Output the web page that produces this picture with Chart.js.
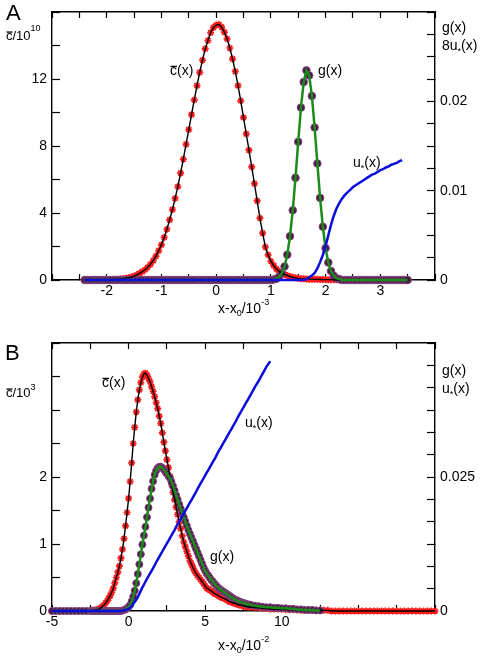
<!DOCTYPE html>
<html>
<head>
<meta charset="utf-8">
<script src="https://cdn.jsdelivr.net/npm/chart.js@4.4.1/dist/chart.umd.min.js"></script>
<style>
  html, body { margin: 0; padding: 0; background: #fff; }
  #wrap { position: relative; width: 480px; height: 656px; }
  canvas { position: absolute; left: 0; }
  #chartA { top: 0; }
  #chartB { top: 328px; }
</style>
</head>
<body>
<div id="wrap">
  <canvas id="chartA" width="480" height="328"></canvas>
  <canvas id="chartB" width="480" height="328"></canvas>
</div>
<script>
// ==================== DATA, PANEL A (x - x0 in 1e-3) ====================
const xA = [
  -2.4,-2.35,-2.3,-2.25,-2.2,-2.15,-2.1,-2.05,-2,-1.95,
  -1.9,-1.85,-1.8,-1.75,-1.7,-1.65,-1.6,-1.55,-1.5,-1.45,
  -1.4,-1.35,-1.3,-1.25,-1.2,-1.15,-1.1,-1.05,-1,-0.95,
  -0.9,-0.85,-0.8,-0.75,-0.7,-0.65,-0.6,-0.55,-0.5,-0.45,
  -0.4,-0.35,-0.3,-0.25,-0.2,-0.15,-0.1,-0.05,0,0.05,
  0.1,0.15,0.2,0.25,0.3,0.35,0.4,0.45,0.5,0.55,
  0.6,0.65,0.7,0.75,0.8,0.85,0.9,0.95,1,1.05,
  1.1,1.15,1.2,1.25,1.3,1.35,1.4,1.45,1.5,1.55,
  1.6,1.65,1.7,1.75,1.8,1.85,1.9,1.95,2,2.05,
  2.1,2.15,2.2,2.25,2.3,2.35,2.4,2.45,2.5,2.55,
  2.6,2.65,2.7,2.75,2.8,2.85,2.9,2.95,3,3.05,
  3.1,3.15,3.2,3.25,3.3,3.35,3.4,3.45,3.5
];
// c(x) / 1e10, left axis
const cA = [
  0,0,0,0,0.01,0.01,0.01,0.02,0.02,0.03,
  0.03,0.04,0.05,0.06,0.08,0.11,0.14,0.18,0.23,0.31,
  0.40,0.50,0.61,0.76,0.93,1.16,1.43,1.75,2.1,2.54,
  3.03,3.59,4.2,4.87,5.58,6.38,7.21,8.1,8.98,9.87,
  10.75,11.6,12.4,13.12,13.8,14.3,14.77,15.07,15.22,15.25,
  15.1,14.8,14.4,13.85,13.2,12.45,11.6,10.7,9.7,8.72,
  7.75,6.75,5.75,4.72,3.7,2.8,1.97,1.5,1.12,0.87,
  0.66,0.52,0.4,0.33,0.27,0.21,0.16,0.13,0.1,0.08,
  0.07,0.06,0.05,0.05,0.04,0.04,0.03,0.03,0.02,0.02,
  0.02,0.01,0.01,0,0,0,0,0,0,0,
  0,0,0,0,0,0,0,0,0,0,
  0,0,0,0,0,0,0,0,0
];
// g(x), right axis
const gA = [
  0,0,0,0,0,0,0,0,0,0,
  0,0,0,0,0,0,0,0,0,0,
  0,0,0,0,0,0,0,0,0,0,
  0,0,0,0,0,0,0,0,0,0,
  0,0,0,0,0,0,0,0,0,0,
  0,0,0,0,0,0,0,0,0,0,
  0,0,0,0,0,0,0,0,0,0.00005,
  0.00014,0.00034,0.00074,0.00151,0.00283,0.0049,0.0078,0.01144,0.01547,0.0193,
  0.02216,0.02346,0.0229,0.0206,0.01707,0.01304,0.00919,0.00596,0.00356,0.00196,
  0.001,0.00047,0.0002,0.0001,0,0,0,0,0,0,
  0,0,0,0,0,0,0,0,0,0,
  0,0,0,0,0,0,0,0,0
];
// 8u*(x), right axis
const uA = [
  0,0,0,0,0,0,0,0,0,0,
  0,0,0,0,0,0,0,0,0,0,
  0,0,0,0,0,0,0,0,0,0,
  0,0,0,0,0,0,0,0,0,0,
  0,0,0,0,0,0,0,0,0,0,
  0,0,0,0,0,0,0,0,0,0,
  0,0,0,0,0,0,0,0,0,0,
  0,0,0,0,0,0,0,0,0,0,
  0,0.0001,0.0003,0.0005,0.0008,0.0013,0.002,0.0028,0.0038,0.005,
  0.0062,0.0072,0.008,0.0086,0.0091,0.0095,0.0098,0.0101,0.0104,0.0106,
  0.0108,0.011,0.0112,0.0114,0.0116,0.0118,0.0119,0.0121,0.0123,0.0124,
  0.0126,0.0127,0.0129,0.013,0.0131,0.0133,0.0134,null,null
];
const xLabelsA = [-2, -1, 0, 1, 2, 3];
const yLabelsA = [0, 4, 8, 12];
const y1LabelsA = [0, 0.01, 0.02];

// ==================== DATA, PANEL B (x - x0 in 1e-2) ====================
const xB = [
  -5,-4.75,-4.5,-4.25,-4,-3.75,-3.5,-3.25,-3,-2.75,
  -2.5,-2.4,-2.3,-2.2,-2.1,-2,-1.9,-1.8,-1.7,-1.6,
  -1.5,-1.4,-1.3,-1.2,-1.1,-1,-0.9,-0.8,-0.7,-0.6,
  -0.5,-0.4,-0.3,-0.2,-0.1,0,0.1,0.2,0.3,0.4,
  0.5,0.6,0.7,0.8,0.9,1,1.1,1.2,1.3,1.4,
  1.5,1.6,1.7,1.8,1.9,2,2.1,2.2,2.3,2.4,
  2.5,2.6,2.7,2.8,2.9,3,3.1,3.2,3.3,3.4,
  3.5,3.6,3.7,3.8,3.9,4,4.1,4.2,4.3,4.4,
  4.5,4.6,4.7,4.8,4.9,5,5.1,5.2,5.3,5.4,
  5.5,5.6,5.7,5.8,5.9,6,6.1,6.2,6.3,6.4,
  6.5,6.6,6.7,6.8,6.9,7,7.1,7.2,7.3,7.4,
  7.5,7.6,7.7,7.8,7.9,8,8.25,8.5,8.75,9,
  9.25,9.5,9.75,10,10.25,10.5,10.75,11,11.25,11.5,
  11.75,12,12.25,12.5,12.75,13,13.25,13.5,13.75,14,
  14.25,14.5,14.75,15,15.25,15.5,15.75,16,16.25,16.5,
  16.75,17,17.25,17.5,17.75,18,18.25,18.5,18.75,19,
  19.25,19.5,19.75,20
];
// c(x) / 1e3, left axis
const cB = [
  0,0,0,0,0,0,0,0,0,0,
  0,0.01,0.01,0.01,0.02,0.02,0.03,0.05,0.07,0.09,
  0.12,0.15,0.19,0.23,0.28,0.34,0.42,0.5,0.58,0.67,
  0.79,0.92,1.08,1.27,1.47,1.68,1.93,2.21,2.5,2.74,
  2.97,3.15,3.3,3.41,3.49,3.54,3.55,3.52,3.47,3.42,
  3.35,3.28,3.2,3.11,3.02,2.91,2.8,2.66,2.52,2.39,
  2.26,2.14,2.01,1.89,1.77,1.66,1.55,1.44,1.33,1.23,
  1.12,1.03,0.96,0.89,0.82,0.75,0.7,0.65,0.6,0.56,
  0.53,0.5,0.47,0.44,0.41,0.37,0.34,0.33,0.31,0.3,
  0.28,0.26,0.25,0.24,0.22,0.21,0.2,0.19,0.18,0.17,
  0.15,0.14,0.13,0.12,0.12,0.11,0.1,0.09,0.09,0.08,
  0.08,0.07,0.07,0.06,0.06,0.06,0.05,0.05,0.04,0.04,
  0.03,0.03,0.03,0.03,0.02,0.02,0.02,0.02,0.01,0.01,
  0.01,0.01,0.01,0.01,0.01,0.01,0,0,0,0,
  0,0,0,0,0,0,0,0,0,0,
  0,0,0,0,0,0,0,0,0,0,
  0,0,0,0
];
// g(x), right axis
const gB = [
  0,0,0,0,0,0,0,0,0,0,
  0,0,0,0,0,0,0,0,0,0,
  0,0,0,0,0,0,0,0,0,0,
  0,0.0001,0.0002,0.0003,0.0005,0.0008,0.0011,0.0018,0.0027,0.0038,
  0.0052,0.0069,0.0087,0.0106,0.0124,0.0141,0.0157,0.0175,0.0193,0.021,
  0.0228,0.0242,0.0254,0.0262,0.0267,0.0269,0.0269,0.0267,0.0264,0.026,
  0.0256,0.0252,0.0248,0.0241,0.0233,0.0225,0.0216,0.0208,0.0199,0.0191,
  0.0183,0.0175,0.0167,0.0159,0.0151,0.0144,0.0137,0.013,0.0123,0.0116,
  0.0109,0.0102,0.0095,0.0088,0.0081,0.0075,0.007,0.0066,0.0062,0.0058,
  0.0055,0.0051,0.0048,0.0045,0.0042,0.004,0.0038,0.0036,0.0034,0.0032,
  0.003,0.0028,0.0026,0.0024,0.0022,0.0021,0.0019,0.0018,0.0017,0.0016,
  0.0015,0.0014,0.0013,0.0012,0.0012,0.0011,0.001,0.0009,0.0008,0.0007,
  0.0007,0.0006,0.0006,0.0005,0.0005,0.0004,0.0004,0.0003,0.0003,0.0002,
  0.0002,0.0002,0.0001,0.0001,null,null,null,null,null,null,
  null,null,null,null,null,null,null,null,null,null,
  null,null,null,null,null,null,null,null,null,null,
  null,null,null,null
];
// u*(x), right axis
const uB = [
  0,0,0,0,0,0,0,0,0,0,
  0,0,0,0,0,0,0,0,0,0,
  0,0,0,0,0,0,0,0,0,0,
  0,0.0001,0.0001,0.0002,0.0003,0.0004,0.0006,0.0009,0.0013,0.0017,
  0.0021,0.0026,0.0032,0.0038,0.0044,0.0049,0.0055,0.006,0.0065,0.007,
  0.0075,0.008,0.0085,0.0091,0.0096,0.0101,0.0106,0.0111,0.0116,0.0121,
  0.0126,0.0131,0.0136,0.0141,0.0146,0.0151,0.0157,0.0162,0.0167,0.0172,
  0.0177,0.0182,0.0187,0.0192,0.0197,0.0202,0.0207,0.0212,0.0217,0.0222,
  0.0228,0.0233,0.0238,0.0243,0.0248,0.0253,0.0258,0.0263,0.0268,0.0273,
  0.0278,0.0283,0.0288,0.0294,0.0299,0.0304,0.0309,0.0314,0.0319,0.0324,
  0.0329,0.0334,0.0339,0.0344,0.0349,0.0354,0.036,0.0365,0.037,0.0375,
  0.038,0.0385,0.039,0.0395,0.04,0.0405,0.0418,0.043,0.0443,0.0456,
  0.0466,null,null,null,null,null,null,null,null,null,
  null,null,null,null,null,null,null,null,null,null,
  null,null,null,null,null,null,null,null,null,null,
  null,null,null,null,null,null,null,null,null,null,
  null,null,null,null
];
const xLabelsB = [-5, 0, 5, 10];
const yLabelsB = [0, 1, 2];
const y1LabelsB = [0, 0.025];

// ==================== STYLE / HELPERS ====================
const FONT = '"Liberation Sans", Arial, Helvetica, sans-serif';
Chart.defaults.font.family = FONT;
Chart.defaults.font.size = 14;
Chart.defaults.color = '#000';

const RED = '#ff1a1a';
const PURPLE = '#4a1746';
const PURPLE_EDGE = '#86477f';
const GREEN = '#1b8c1b';
const BLUE = '#0c0cdc';

const pts = (xs, ys) => xs.map((x, i) => ({ x: x, y: ys[i] }));

// only the listed values get a label, the other ticks stay as bare marks
const lab = (list) => (v) => {
  const m = list.find(l => Math.abs(l - v) < 1e-9);
  return m === undefined ? '' : String(m);
};

const fix = (w, h) => (s) => {
  if (w !== null) s.width = w;
  if (h !== null) s.height = h;
  s.paddingLeft = s.paddingRight = s.paddingTop = s.paddingBottom = 0;
};

const grid = (len) => ({
  drawOnChartArea: false, color: '#000', tickColor: '#000',
  tickLength: len, tickWidth: 1.2
});
const border = { display: true, color: '#000', width: 1.4 };

function say(ctx, x, y, parts) {
  let cx = x;
  parts.forEach(p => {
    const t = p[0], size = p[1], dy = p[2] || 0;
    ctx.font = size + 'px ' + FONT;
    ctx.fillText(t, cx, y + dy);
    const w = ctx.measureText(t).width;
    if (p[3]) ctx.fillRect(cx + 0.5, y - size * 0.66, w - 0.5, 1.3);
    cx += w;
  });
}

function notes(id, list) {
  return {
    id: id,
    afterDraw(chart) {
      const ctx = chart.ctx;
      ctx.save();
      ctx.fillStyle = '#000';
      ctx.textAlign = 'left';
      ctx.textBaseline = 'alphabetic';
      list.forEach(n => say(ctx, n[0], n[1], n[2]));
      ctx.restore();
    }
  };
}

// markers along zero overhang the frame in the original, so no clipping
function sets(xs, c, g, u, rG) {
  return [
    { label: 'u', data: pts(xs, u), yAxisID: 'y1', showLine: true, borderColor: BLUE,
      borderWidth: 2.5, pointRadius: 0, order: 1, clip: false },
    { label: 'g line', data: pts(xs, g), yAxisID: 'y1', showLine: true, borderColor: GREEN,
      borderWidth: 2.5, pointRadius: 0, order: 2, clip: false },
    { label: 'c line', data: pts(xs, c), yAxisID: 'y', showLine: true, borderColor: '#000',
      borderWidth: 1.4, pointRadius: 0, order: 3, clip: false },
    { label: 'g pts', data: pts(xs, g), yAxisID: 'y1', showLine: false, pointStyle: 'circle',
      pointRadius: rG, backgroundColor: PURPLE, borderColor: PURPLE_EDGE, borderWidth: 1,
      order: 4, clip: false },
    { label: 'c pts', data: pts(xs, c), yAxisID: 'y', showLine: false, pointStyle: 'star',
      pointRadius: 3.5, borderColor: RED, borderWidth: 1.7, order: 5, clip: false }
  ];
}

function axes(o) {
  return {
    x: { type: 'linear', position: 'bottom', min: o.xmin, max: o.xmax,
      ticks: { stepSize: o.xstep, padding: 9, autoSkip: false, maxRotation: 0, callback: lab(o.xl) },
      grid: grid(-6), border: border, afterFit: fix(null, o.bottom) },
    xTop: { type: 'linear', position: 'top', min: o.xmin, max: o.xmax,
      ticks: { display: false, stepSize: o.xstep, autoSkip: false },
      grid: grid(-6), border: border, afterFit: fix(null, 0) },
    y: { type: 'linear', position: 'left', min: 0, max: o.ymax,
      ticks: { stepSize: o.ystep, padding: 13, autoSkip: false, callback: lab(o.yl) },
      grid: grid(-8), border: border, afterFit: fix(52, null) },
    y1: { type: 'linear', position: 'right', min: 0, max: o.y1max,
      ticks: { stepSize: o.y1step, padding: 13, autoSkip: false, callback: lab(o.y1l) },
      grid: grid(-8), border: border, afterFit: fix(45, null) }
  };
}

const common = {
  responsive: false,
  animation: false,
  devicePixelRatio: 1,
  plugins: { legend: { display: false }, tooltip: { enabled: false } }
};

// ==================== PANEL A ====================
const chtA = new Chart(document.getElementById('chartA'), {
  type: 'scatter',
  data: { datasets: sets(xA, cA, gA, uA, 3.8) },
  options: Object.assign({}, common, {
    layout: { padding: { top: 12, left: 0, right: 0, bottom: 0 } },
    scales: axes({ xmin: -3, xmax: 4, xstep: 0.5, xl: xLabelsA, bottom: 48,
      ymax: 16, ystep: 2, yl: yLabelsA, y1max: 0.03, y1step: 0.0025, y1l: y1LabelsA })
  }),
  plugins: [notes('notesA', [
    [6, 20, [['A', 22]]],
    [6, 40, [['c', 13, 0, true], ['/10', 13], ['10', 9, -9]]],
    [170, 75, [['c', 14, 0, true], ['(x)', 14]]],
    [318, 75, [['g(x)', 14]]],
    [353, 167, [['u', 14], ['*', 9, 4], ['(x)', 14]]],
    [442, 32, [['g(x)', 14]]],
    [442, 50, [['8u', 14], ['*', 9, 4], ['(x)', 14]]],
    [218, 313, [['x-x', 14], ['0', 9, 3], ['/10', 14], ['-3', 9, -8]]]
  ])]
});

// ==================== PANEL B ====================
const chtB = new Chart(document.getElementById('chartB'), {
  type: 'scatter',
  data: { datasets: sets(xB, cB, gB, uB, 3.5) },
  options: Object.assign({}, common, {
    layout: { padding: { top: 15, left: 0, right: 0, bottom: 0 } },
    scales: axes({ xmin: -5, xmax: 20, xstep: 2.5, xl: xLabelsB, bottom: 45,
      ymax: 4, ystep: 0.5, yl: yLabelsB, y1max: 0.05, y1step: 0.05 / 12, y1l: y1LabelsB })
  }),
  plugins: [notes('notesB', [
    [5, 32, [['B', 22]]],
    [6, 69, [['c', 13, 0, true], ['/10', 13], ['3', 9, -7]]],
    [102, 59, [['c', 14, 0, true], ['(x)', 14]]],
    [245, 99, [['u', 14], ['*', 9, 4], ['(x)', 14]]],
    [210, 233, [['g(x)', 14]]],
    [442, 47, [['g(x)', 14]]],
    [442, 65, [['u', 14], ['*', 9, 4], ['(x)', 14]]],
    [218, 322, [['x-x', 14], ['0', 9, 3], ['/10', 14], ['-2', 9, -8]]]
  ])]
});
</script>
</body>
</html>
